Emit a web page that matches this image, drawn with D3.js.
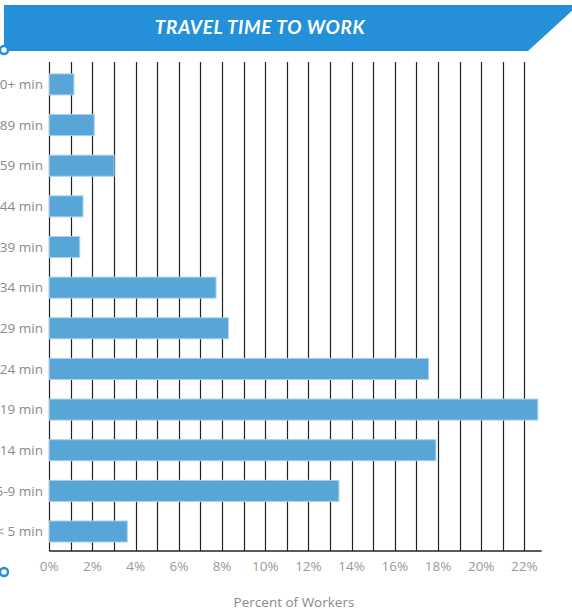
<!DOCTYPE html>
<html>
<head>
<meta charset="utf-8">
<script src="https://cdn.jsdelivr.net/npm/d3@7"></script>
<style>
  html, body { margin: 0; padding: 0; background: #fff; overflow: hidden; }
  svg { display: block; }
</style>
</head>
<body>
<svg id="chart" width="572" height="613"></svg>
<script>
const title = "TRAVEL TIME TO WORK";
const categories = ["90+ min", "60-89 min", "45-59 min", "40-44 min", "35-39 min", "30-34 min",
  "25-29 min", "20-24 min", "15-19 min", "10-14 min", "5-9 min", "< 5 min"];
const values = [1.14, 2.08, 3.0, 1.56, 1.41, 7.72, 8.29, 17.56, 22.62, 17.9, 13.41, 3.61];
const gridTicks = d3.range(0, 23, 1);
const labelTicks = [0, 2, 4, 6, 8, 10, 12, 14, 16, 18, 20, 22];
const xTitle = "Percent of Workers";

const svg = d3.select("#chart");
const font = "'Open Sans', sans-serif";

// banner
svg.append("path")
  .attr("d", "M4,5 L576,5 L576,7 L528,51 L4,51 Z")
  .attr("fill", "#2390d9");
svg.append("text")
  .attr("x", 260).attr("y", 34)
  .attr("text-anchor", "middle")
  .attr("fill", "#fff")
  .attr("font-family", "Lato, sans-serif")
  .attr("font-weight", "bold")
  .attr("font-style", "italic")
  .attr("font-size", 19)
  .attr("letter-spacing", 0.6)
  .text(title);
svg.append("circle").attr("cx", 4).attr("cy", 50).attr("r", 4)
  .attr("fill", "#fff").attr("stroke", "#2390d9").attr("stroke-width", 2.5);
svg.append("circle").attr("cx", 4).attr("cy", 572).attr("r", 4)
  .attr("fill", "#fff").attr("stroke", "#2390d9").attr("stroke-width", 2.5);

const x = d3.scaleLinear().domain([0, 22.8]).range([49.3, 541.7]);
const y = d3.scaleBand().domain(categories).range([62, 551])
  .paddingInner(0.483).paddingOuter(0.257).align(0.57);

// grid lines
svg.append("g").selectAll("line").data(gridTicks).join("line")
  .attr("x1", d => Math.round(x(d)) + 0.5).attr("x2", d => Math.round(x(d)) + 0.5)
  .attr("y1", 62).attr("y2", 551)
  .attr("stroke", "#222").attr("stroke-width", 1.2);

// bottom axis line
svg.append("line")
  .attr("x1", x(0)).attr("x2", x(22.8))
  .attr("y1", 551).attr("y2", 551)
  .attr("stroke", "#222").attr("stroke-width", 1.5);

// bars
svg.append("g").selectAll("rect").data(categories).join("rect")
  .attr("x", x(0))
  .attr("y", d => y(d))
  .attr("width", (d, i) => x(values[i]) - x(0))
  .attr("height", y.bandwidth())
  .attr("fill", "#58a5d8")
  .attr("stroke", "#a6d0ee")
  .attr("stroke-width", 1);

// category labels
svg.append("g").selectAll("text").data(categories).join("text")
  .attr("x", 43)
  .attr("y", d => y(d) + y.bandwidth() / 2)
  .attr("dy", "0.35em")
  .attr("text-anchor", "end")
  .attr("fill", "#8a8a8a")
  .attr("font-family", font)
  .attr("font-size", 13.5)
  .text(d => d);

// tick labels
svg.append("g").selectAll("text").data(labelTicks).join("text")
  .attr("x", d => x(d))
  .attr("y", 571)
  .attr("text-anchor", "middle")
  .attr("fill", "#999")
  .attr("font-family", font)
  .attr("font-size", 13.5)
  .text(d => d + "%");

svg.append("text")
  .attr("x", 294).attr("y", 607)
  .attr("text-anchor", "middle")
  .attr("fill", "#8a8a8a")
  .attr("font-family", font)
  .attr("font-size", 13.5)
  .text(xTitle);
</script>
</body>
</html>
